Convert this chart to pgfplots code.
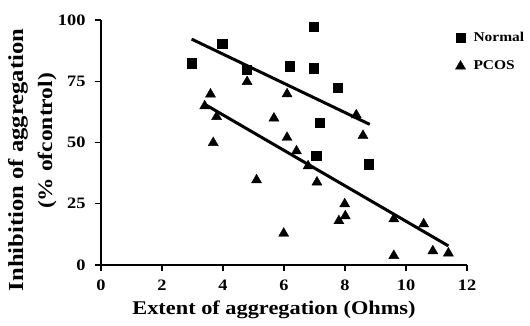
\documentclass[border=0pt]{standalone}
\usepackage{fontspec}
\setmainfont[FakeStretch=1.15]{Liberation Serif}
\usepackage{pgfplots}
\pgfplotsset{compat=1.18}
\begin{document}
\begin{tikzpicture}
\begin{axis}[
  scale only axis, width=366bp, height=245bp,
  xmin=0, xmax=12, ymin=0, ymax=100,
  axis lines=left, axis line style={-, line width=1.3bp},
  xtick={0,2,4,6,8,10,12}, ytick={0,25,50,75,100},
  tick align=outside, major tick length=6bp,
  tick style={line width=1.3bp, black},
  ticklabel style={font=\fontsize{16}{18}\selectfont\bfseries},
  xticklabel style={yshift=-5bp},
  yticklabel style={xshift=-6bp},
  /pgf/number format/assume math mode=true,
  clip=false,
  legend style={at={(axis description cs:0.968,0.955)}, anchor=north west, draw=none,
    fill=none, font=\fontsize{13.5}{15}\selectfont\bfseries, row sep=16bp,
    inner sep=0pt, nodes={inner sep=1bp},
    /tikz/every odd column/.append style={column sep=7bp}},
  legend cell align=left,
  legend image code/.code={\draw[mark repeat=2,mark phase=2] plot coordinates {(0bp,0bp)(5bp,0bp)(10bp,0bp)};},
]
\coordinate (O) at (rel axis cs:0,0);
\addplot[only marks, mark=square*, mark size=4.7bp, black] coordinates {
 (2.97,82.3) (3.97,90.3) (4.77,79.6) (6.18,81.2) (6.97,97.3) (6.97,80.3)
 (7.77,72.4) (7.17,58.2) (7.06,44.5) (8.78,41.2)
};
\addlegendentry{Normal}
\addplot[only marks, mark=triangle*, mark size=5.8bp, black] coordinates {
 (3.59,69.7) (3.40,64.9) (3.79,60.5) (3.68,49.9) (4.79,74.8) (6.10,69.8)
 (5.67,59.9) (6.10,52.0) (6.41,46.5) (8.37,61.2) (8.59,52.8) (6.79,40.4)
 (5.10,34.7) (7.08,33.8) (7.99,24.9) (8.01,20.0) (7.80,18.0) (5.99,12.9)
 (9.60,18.8) (10.58,16.7) (9.60,3.8) (10.88,5.7) (11.39,4.8)
};
\addlegendentry{PCOS}
\addplot[black, line width=3bp, forget plot] coordinates {(2.97,92.2) (8.81,57.4)};
\addplot[black, line width=3bp, forget plot] coordinates {(3.40,65.6) (11.39,7.8)};
\end{axis}
\node[font=\fontsize{19.5}{21}\selectfont\bfseries] at ([shift={(173bp,-45bp)}]O) {Extent of aggregation (Ohms)};
\node[rotate=90, font=\fontsize{21.5}{23}\selectfont\bfseries] at ([shift={(-83bp,105bp)}]O) {Inhibition of aggregation};
\node[rotate=90, font=\fontsize{20.5}{22}\selectfont\bfseries] at ([shift={(-54bp,124bp)}]O) {(\% ofcontrol)};
\path[use as bounding box] ([shift={(-101bp,-61bp)}]O) rectangle ([shift={(429bp,265bp)}]O);
\end{tikzpicture}
\end{document}
